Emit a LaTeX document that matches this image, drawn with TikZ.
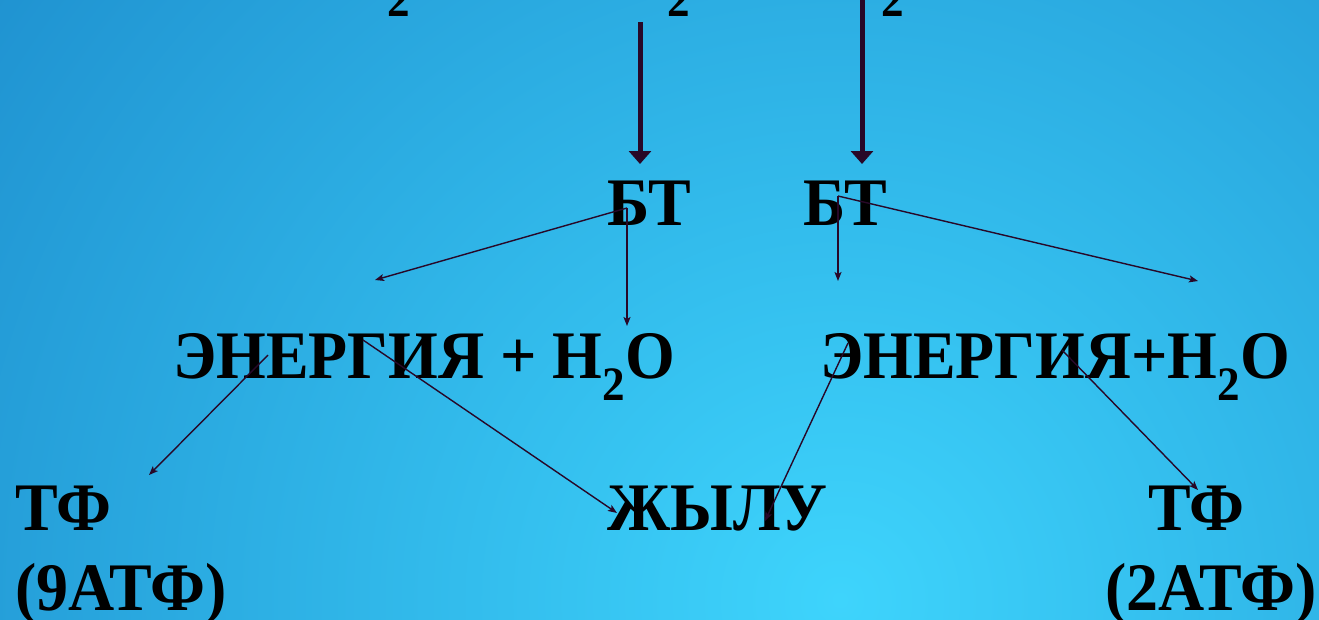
\documentclass[tikz,border=0pt]{standalone}
\usepackage{fontspec}
\setmainfont{Liberation Serif}[FakeStretch=0.94]
\usetikzlibrary{arrows.meta}
\definecolor{bgdark}{RGB}{18,118,190}
\definecolor{bglight}{RGB}{62,212,252}
\definecolor{arr}{RGB}{40,8,40}
\newcommand{\subtwo}{\raisebox{-22pt}{\fontsize{48}{48}\selectfont 2}}
\tikzset{
  lbl/.style={inner sep=0pt, anchor=base west, font=\fontsize{68}{68}\selectfont\bfseries, text=black},
  sub/.style={inner sep=0pt, anchor=base west, font=\fontsize{48}{48}\selectfont\bfseries, text=black},
  bigarrow/.style={draw=arr, line width=5pt, -{Triangle[width=22pt,length=13pt]}},
  thinarrow/.style={draw=arr, line width=1.4pt, -{Stealth[width=7pt,length=9pt,inset=2pt]}}
}
\begin{document}
\begin{tikzpicture}[x=1pt,y=-1pt]
\useasboundingbox (0,0) rectangle (1319,619);
\begin{scope}
\clip (0,0) rectangle (1319,619);
\shade[inner color=bglight, outer color=bgdark] (840,600) circle (1500);
\end{scope}
% top cut-off subscripts
\node[sub] (t1) at (387,16) {2};
\node[sub] (t2) at (667,16) {2};
\node[sub] (t3) at (881,16) {2};
% main labels
\node[lbl] (bt1) at (607,225) {БТ};
\node[lbl] (bt2) at (803,225) {БТ};
\node[lbl] (en1) at (173,378) {ЭНЕРГИЯ + H\subtwo O};
\node[lbl] (en2) at (820,378) {ЭНЕРГИЯ+H\subtwo O};
\node[lbl] (tf1) at (15,530) {ТФ};
\node[lbl] (atf1) at (15,610) {(9АТФ)};
\node[lbl] (zh) at (607,530) {ЖЫЛУ};
\node[lbl] (tf2) at (1148,530) {ТФ};
\node[lbl] (atf2) at (1105,610) {(2АТФ)};
% connector coordinates
\coordinate (a1s) at (640,22);
\coordinate (a1e) at (640,164);
\coordinate (a2s) at (862,-5);
\coordinate (a2e) at (862,164);
\coordinate (b1o) at (627,208);
\coordinate (b1l) at (375,280);
\coordinate (b1d) at (627,326);
\coordinate (b2o) at (838,196);
\coordinate (b2d) at (838,281);
\coordinate (b2r) at (1198,281);
\coordinate (e1a) at (268,355);
\coordinate (e1ae) at (149,475);
\coordinate (e1b) at (363,340);
\coordinate (e1be) at (617,513);
\coordinate (e2a) at (848,343);
\coordinate (e2ae) at (765,521);
\coordinate (e2b) at (1062,350);
\coordinate (e2be) at (1198,490);
% connectors
\draw[bigarrow] (a1s) -- (a1e);
\draw[bigarrow] (a2s) -- (a2e);
\draw[thinarrow] (b1o) -- (b1l);
\draw[thinarrow] (b1o) -- (b1d);
\draw[thinarrow] (b2o) -- (b2d);
\draw[thinarrow] (b2o) -- (b2r);
\draw[thinarrow] (e1a) -- (e1ae);
\draw[thinarrow] (e1b) -- (e1be);
\draw[thinarrow] (e2a) -- (e2ae);
\draw[thinarrow] (e2b) -- (e2be);
\end{tikzpicture}
\end{document}
